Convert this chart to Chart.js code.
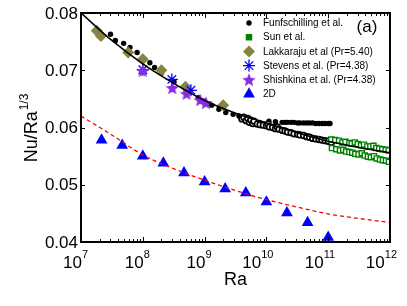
<!DOCTYPE html>
<html>
<head>
<meta charset="utf-8">
<script src="https://cdn.jsdelivr.net/npm/chart.js@4.4.1/dist/chart.umd.min.js"></script>
<style>
  html, body { margin: 0; padding: 0; background: #fff; }
</style>
</head>
<body>
<canvas id="grafico" width="407" height="306"></canvas>
<script>
// valores (Ra, Nu/Ra^1/3)
const raFunf = [3.0e7, 3.6e7, 4.9e7, 6.2e7, 8.1e7, 1.3e8, 1.55e8, 2.0e8, 3.2e8, 5.0e8, 7.9e8, 1.3e9, 1.7e9, 2.2e9, 2.9e9, 3.6e9, 4.7e9, 6.0e9, 7.8e9, 1.1e10, 1.4e10, 1.8e10, 2.0e10, 2.2e10, 2.5e10, 2.8e10, 3.2e10, 3.5e10, 4.0e10, 4.5e10, 5.0e10, 5.6e10, 6.3e10, 7.1e10, 8.0e10, 8.9e10, 1.0e11, 1.07e11];
const nuFunf = [0.0763, 0.0752, 0.0747, 0.0740, 0.0731, 0.0713, 0.0705, 0.0695, 0.0680, 0.0665, 0.0652, 0.0639, 0.0632, 0.0626, 0.0623, 0.0620, 0.0614, 0.0611, 0.0609, 0.0611, 0.0610, 0.0609, 0.0609, 0.0609, 0.0609, 0.0609, 0.0608, 0.0608, 0.0608, 0.0608, 0.0608, 0.0608, 0.0607, 0.0607, 0.0607, 0.0607, 0.0607, 0.0607];

// Funfschilling, simbolos abertos
const raFunfAb = [4.0e9, 4.3e9, 4.7e9, 5.0e9, 5.3e9, 5.6e9, 6.0e9, 6.3e9, 7.1e9, 7.9e9, 8.9e9, 1.0e10, 1.06e10, 1.12e10, 1.26e10, 1.4e10, 1.5e10, 1.6e10, 1.8e10, 2.0e10, 2.2e10, 2.5e10, 2.8e10, 3.2e10, 3.5e10, 4.0e10, 4.5e10, 5.0e10, 5.6e10, 6.3e10, 7.1e10, 7.9e10, 8.9e10, 1.0e11, 1.12e11];
const nuFunfAb = [0.0615, 0.0618, 0.0612, 0.0616, 0.0609, 0.0613, 0.0607, 0.0611, 0.0606, 0.0605, 0.0604, 0.0603, 0.0606, 0.0601, 0.0600, 0.0598, 0.0601, 0.0597, 0.0595, 0.0594, 0.0592, 0.0591, 0.0589, 0.0588, 0.0587, 0.0586, 0.0584, 0.0583, 0.0581, 0.0580, 0.0579, 0.0578, 0.0577, 0.0576, 0.0574];

const raSun = [1.12e11, 1.3e11, 1.5e11, 1.7e11, 1.9e11, 2.2e11, 2.4e11, 2.7e11, 3.0e11, 3.4e11, 3.8e11, 4.3e11, 4.8e11, 5.4e11, 6.0e11, 6.7e11, 7.5e11, 8.5e11, 9.5e11, 1.15e11, 1.35e11, 1.55e11, 1.75e11, 1.95e11, 2.2e11, 2.45e11, 2.75e11, 3.1e11, 3.5e11, 3.9e11, 4.4e11, 4.9e11, 5.5e11, 6.1e11, 6.9e11, 7.7e11, 8.6e11, 9.6e11];
const nuSun = [0.0579, 0.0578, 0.0577, 0.0574, 0.0575, 0.0573, 0.0572, 0.0574, 0.0571, 0.0569, 0.0570, 0.0567, 0.0567, 0.0568, 0.0564, 0.0563, 0.0562, 0.0561, 0.0560, 0.0564, 0.0562, 0.0560, 0.0561, 0.0558, 0.0557, 0.0556, 0.0554, 0.0553, 0.0555, 0.0551, 0.0549, 0.0548, 0.0550, 0.0546, 0.0544, 0.0543, 0.0542, 0.0540];

const raLak = [1.8e7, 2.1e7, 5.8e7, 1.0e8, 2.0e8, 4.9e8, 2.0e9];
const nuLak = [0.0769, 0.0760, 0.0731, 0.0719, 0.0700, 0.0671, 0.0639];

const raStev = [1.0e8, 2.95e8, 6.0e8];
const nuStev = [0.0701, 0.0684, 0.0665];

const raShi = [1.0e8, 3.0e8, 5.1e8, 8.5e8, 1.05e9];
const nuShi = [0.0699, 0.0669, 0.0659, 0.0648, 0.0643];

const ra2D = [2.15e7, 4.64e7, 1e8, 2.15e8, 4.64e8, 1e9, 2.15e9, 4.64e9, 1e10, 2.15e10, 4.64e10, 1e11];
const nu2D = [0.0578, 0.0569, 0.0550, 0.0538, 0.0521, 0.0505, 0.0493, 0.0486, 0.0470, 0.0451, 0.0434, 0.0408];

// curvas de ajuste
const raCurva = [1e7, 3.16e7, 1e8, 3.16e8, 1e9, 3.16e9, 1e10, 3.16e10, 1e11, 3.16e11, 1e12];
const nuCurva3D = [0.0800, 0.0752, 0.0711, 0.0677, 0.0647, 0.0625, 0.0608, 0.0591, 0.0576, 0.0565, 0.0556];
const nuCurva2D = [0.0620, 0.0587, 0.0552, 0.0528, 0.0508, 0.0490, 0.0474, 0.0461, 0.0449, 0.0441, 0.0434];

const yTicks = [0.04, 0.05, 0.06, 0.07, 0.08];
const xExpoentes = [7, 8, 9, 10, 11, 12];

const FONTE = '"Liberation Sans", Arial, sans-serif';

function pontos(xs, ys) {
    return xs.map((x, i) => ({ x: x, y: ys[i] }));
}

function estrela(tam, cor) {
    const c = document.createElement('canvas');
    c.width = tam; c.height = tam;
    const g = c.getContext('2d');
    const r = tam / 2, ri = r * 0.45;
    g.beginPath();
    for (let i = 0; i < 10; i++) {
        const a = -Math.PI / 2 + i * Math.PI / 5;
        const rr = i % 2 === 0 ? r : ri;
        g.lineTo(r + rr * Math.cos(a), r + 0.6 + rr * Math.sin(a));
    }
    g.closePath();
    g.fillStyle = cor;
    g.fill();
    return c;
}

const imgEstrela = estrela(14, '#8a2be2');

const datasets = [
    { label: 'curva3D', data: pontos(raCurva, nuCurva3D), showLine: true, borderColor: '#000', borderWidth: 1.6, pointRadius: 0, cubicInterpolationMode: 'monotone', order: 0 },
    { label: 'curva2D', data: pontos(raCurva, nuCurva2D), showLine: true, borderColor: '#ff0000', borderWidth: 1.3, borderDash: [4, 3], pointRadius: 0, cubicInterpolationMode: 'monotone', order: 0 },
    { label: 'Funfschilling et al.', data: pontos(raFunf, nuFunf), pointStyle: 'circle', pointRadius: 2.7, backgroundColor: '#000', borderColor: '#000', borderWidth: 0, legenda: true, order: 6 },
    { label: 'funfAberto', data: pontos(raFunfAb, nuFunfAb), pointStyle: 'circle', pointRadius: 2.8, backgroundColor: '#fff', borderColor: '#000', borderWidth: 1.7, order: 5 },
    { label: 'Sun et al.', data: pontos(raSun, nuSun), pointStyle: 'rect', pointRadius: 3.6, backgroundColor: '#fff', borderColor: '#008000', borderWidth: 1.4, legenda: true, legFill: '#008000', order: 4 },
    { label: 'Lakkaraju et al (Pr=5.40)', data: pontos(raLak, nuLak), pointStyle: 'rectRot', pointRadius: 6, backgroundColor: '#85853f', borderColor: '#85853f', borderWidth: 0, legenda: true, order: 3 },
    { label: 'Stevens et al. (Pr=4.38)', data: pontos(raStev, nuStev), pointStyle: 'star', pointRadius: 6, backgroundColor: '#0000ff', borderColor: '#0000ff', borderWidth: 1.3, legenda: true, order: 2 },
    { label: 'Shishkina et al. (Pr=4.38)', data: pontos(raShi, nuShi), pointStyle: imgEstrela, pointRadius: 7, backgroundColor: '#8a2be2', borderColor: '#8a2be2', legenda: true, order: 1 },
    { label: '2D', data: pontos(ra2D, nu2D), pointStyle: 'triangle', pointRadius: 6.8, backgroundColor: '#0000ff', borderColor: '#0000ff', borderWidth: 0, legenda: true, order: 1 }
];

function desenhaMarcador(ctx, ds, x, y) {
    ctx.save();
    ctx.fillStyle = ds.legFill || ds.backgroundColor;
    ctx.strokeStyle = ds.borderColor;
    ctx.lineWidth = ds.borderWidth || 0;
    Chart.helpers.drawPoint(ctx, { pointStyle: ds.pointStyle, radius: ds.pointRadius, rotation: 0, borderWidth: ds.borderWidth || 0 }, x, y);
    ctx.restore();
}

const eixos = {
    id: 'eixos',
    afterDatasetsDraw(chart) {
        const ctx = chart.ctx;
        const a = chart.chartArea;
        const sx = chart.scales.x, sy = chart.scales.y;
        ctx.save();
        ctx.strokeStyle = '#000';
        ctx.lineWidth = 1;
        ctx.beginPath();
        xExpoentes.forEach(e => {
            for (let m = 1; m <= 9; m++) {
                const v = m * Math.pow(10, e);
                if (v > 1e12) break;
                const px = Math.round(sx.getPixelForValue(v)) + 0.5;
                const len = m === 1 ? 5 : 3;
                ctx.moveTo(px, a.bottom); ctx.lineTo(px, a.bottom - len);
                ctx.moveTo(px, a.top); ctx.lineTo(px, a.top + len);
            }
        });
        yTicks.forEach(v => {
            const py = Math.round(sy.getPixelForValue(v)) + 0.5;
            ctx.moveTo(a.left, py); ctx.lineTo(a.left + 4, py);
            ctx.moveTo(a.right, py); ctx.lineTo(a.right - 4, py);
        });
        ctx.stroke();
        ctx.lineWidth = 2;
        ctx.strokeRect(a.left, a.top, a.right - a.left, a.bottom - a.top);

        // rotulos do eixo y
        ctx.fillStyle = '#000';
        ctx.font = '17px ' + FONTE;
        ctx.textAlign = 'right';
        ctx.textBaseline = 'middle';
        yTicks.forEach(v => {
            ctx.fillText(v.toFixed(2), a.left - 3, sy.getPixelForValue(v) + 1);
        });

        // rotulos do eixo x: 10^n
        ctx.textAlign = 'left';
        ctx.textBaseline = 'alphabetic';
        xExpoentes.forEach(e => {
            const px = sx.getPixelForValue(Math.pow(10, e));
            ctx.font = '17px ' + FONTE;
            const w1 = ctx.measureText('10').width;
            ctx.font = '11px ' + FONTE;
            const w2 = ctx.measureText(String(e)).width;
            const x0 = px + 7 - w1 - w2;
            ctx.font = '17px ' + FONTE;
            ctx.fillText('10', x0, a.bottom + 26);
            ctx.font = '11px ' + FONTE;
            ctx.fillText(String(e), x0 + w1, a.bottom + 16);
        });

        // titulo x
        ctx.font = '18px ' + FONTE;
        ctx.textAlign = 'center';
        ctx.fillText('Ra', (a.left + a.right) / 2, a.bottom + 43);

        // titulo y com expoente
        ctx.save();
        ctx.translate(37, 128);
        ctx.rotate(-Math.PI / 2);
        ctx.textAlign = 'left';
        ctx.font = '18px ' + FONTE;
        const wa = ctx.measureText('Nu/Ra').width;
        ctx.font = '12px ' + FONTE;
        const wb = ctx.measureText('1/3').width;
        const inicio = -(wa + wb + 1) / 2;
        ctx.font = '18px ' + FONTE;
        ctx.fillText('Nu/Ra', inicio, 0);
        ctx.font = '12px ' + FONTE;
        ctx.fillText('1/3', inicio + wa + 1, -9);
        ctx.restore();

        // (a)
        ctx.font = '17px ' + FONTE;
        ctx.textAlign = 'center';
        ctx.textBaseline = 'middle';
        ctx.fillText('(a)', 367, 27);

        // legenda
        ctx.font = '10px ' + FONTE;
        ctx.textAlign = 'left';
        let yl = 23;
        chart.data.datasets.forEach(ds => {
            if (!ds.legenda) return;
            desenhaMarcador(ctx, ds, 249, yl);
            ctx.fillStyle = '#000';
            ctx.fillText(ds.label, 263, yl + 0.5);
            yl += 14.2;
        });
        ctx.restore();
    }
};

const ctxGrafico = document.getElementById('grafico');
new Chart(ctxGrafico, {
    type: 'scatter',
    data: { datasets: datasets },
    options: {
        responsive: false,
        animation: false,
        layout: { padding: { left: 81, top: 13, right: 17, bottom: 64 } },
        plugins: {
            legend: { display: false },
            tooltip: { enabled: false }
        },
        scales: {
            x: { type: 'logarithmic', min: 1e7, max: 1e12, display: false },
            y: { type: 'linear', min: 0.04, max: 0.08, display: false }
        }
    },
    plugins: [eixos]
});
</script>
</body>
</html>
